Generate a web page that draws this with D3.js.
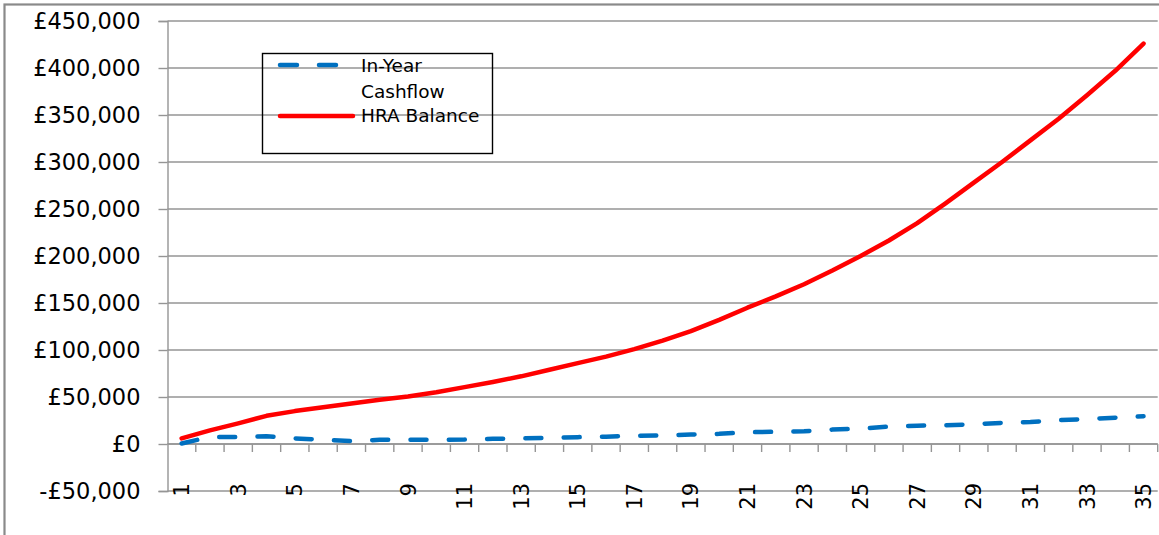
<!DOCTYPE html>
<html>
<head>
<meta charset="utf-8">
<script src="https://cdn.jsdelivr.net/npm/d3@7"></script>
<style>
  html, body { margin: 0; padding: 0; background: #fff; }
  svg { display: block; }
  text { font-family: "DejaVu Sans", sans-serif; fill: #000; }
</style>
</head>
<body>
<svg id="chart" width="1159" height="535"></svg>
<script>
// Year index along the category axis
const years = d3.range(1, 36).map(String);

// In-Year Cashflow (£)
const inYearCashflow = [
  500, 7500, 7500, 8300, 6000, 4500, 3000, 4500, 4500, 4600,
  4700, 5500, 6000, 6500, 7300, 7800, 8700, 9300, 10000, 10800,
  12500, 13000, 13500, 15300, 16300, 18500, 19500, 20000, 21000, 22500,
  23500, 25300, 26500, 28000, 29500
];

// HRA Balance (£)
const hraBalance = [
  6000, 14500, 22000, 30000, 35000, 39000, 43000, 47000, 50500, 55000,
  60500, 66000, 72000, 79000, 86000, 93000, 101000, 110000, 120000, 132000,
  145000, 157000, 170000, 184500, 200000, 216500, 235000, 256000, 278000, 300000,
  323000, 346000, 371000, 397000, 426000
];

// Value axis ticks and their labels
const yTicks = [-50000, 0, 50000, 100000, 150000, 200000, 250000, 300000, 350000, 400000, 450000];
const yTickLabels = ["-£50,000", "£0", "£50,000", "£100,000", "£150,000", "£200,000",
                     "£250,000", "£300,000", "£350,000", "£400,000", "£450,000"];

// Category labels shown (every other year)
const xTickLabels = years.filter((d, i) => i % 2 === 0);

const seriesNames = ["In-Year Cashflow", "HRA Balance"];

const svg = d3.select("#chart");

// chart frame
svg.append("rect")
  .attr("x", 4.5).attr("y", 4.5)
  .attr("width", 1170).attr("height", 550)
  .attr("fill", "none").attr("stroke", "#8a8a8a").attr("stroke-width", 2.2);

const plot = { left: 167.5, right: 1157.7, top: 21, bottom: 491 };

const x = d3.scaleBand().domain(years).range([plot.left, plot.right]).padding(0);
const y = d3.scaleLinear().domain([-50000, 450000]).range([plot.bottom, plot.top]);
const cx = d => x(d) + x.bandwidth() / 2;

// horizontal gridlines
svg.append("g")
  .selectAll("line")
  .data(yTicks)
  .join("line")
  .attr("x1", plot.left).attr("x2", plot.right)
  .attr("y1", d => y(d)).attr("y2", d => y(d))
  .attr("stroke", "#959595").attr("stroke-width", 1.4);

// value axis
const yAxis = d3.axisLeft(y)
  .tickValues(yTicks)
  .tickSize(9)
  .tickPadding(18)
  .tickFormat((d, i) => yTickLabels[i]);

const gy = svg.append("g")
  .attr("transform", `translate(${plot.left},0)`)
  .call(yAxis);
gy.select(".domain").attr("stroke", "#959595").attr("stroke-width", 1.4);
gy.selectAll(".tick line").attr("stroke", "#959595").attr("stroke-width", 1.4);
gy.selectAll(".tick text")
  .attr("font-size", 22.5)
  .attr("font-family", "DejaVu Sans, sans-serif")
  .attr("fill", "#111");

// category axis along zero
const y0 = y(0);
const gx = svg.append("g");
gx.append("line")
  .attr("x1", plot.left).attr("x2", plot.right)
  .attr("y1", y0).attr("y2", y0)
  .attr("stroke", "#959595").attr("stroke-width", 1.4);
gx.selectAll("line.tick")
  .data(years)
  .join("line")
  .attr("class", "tick")
  .attr("x1", d => x(d) + x.bandwidth()).attr("x2", d => x(d) + x.bandwidth())
  .attr("y1", y0).attr("y2", y0 + 8)
  .attr("stroke", "#959595").attr("stroke-width", 1.4);
gx.selectAll("text")
  .data(xTickLabels)
  .join("text")
  .attr("transform", d => `translate(${cx(d)},483) rotate(-90)`)
  .attr("text-anchor", "end")
  .attr("dy", "0.36em")
  .attr("font-size", 21)
  .attr("fill", "#111")
  .text(d => d);

// series lines
const line = d3.line().x((d, i) => cx(years[i])).y(d => y(d));

svg.append("path")
  .datum(inYearCashflow)
  .attr("d", line)
  .attr("fill", "none")
  .attr("stroke", "#0070C0")
  .attr("stroke-width", 4.5)
  .attr("stroke-linecap", "round")
  .attr("stroke-linejoin", "round")
  .attr("stroke-dasharray", "16,22.3");

svg.append("path")
  .datum(hraBalance)
  .attr("d", line)
  .attr("fill", "none")
  .attr("stroke", "#FF0000")
  .attr("stroke-width", 4.5)
  .attr("stroke-linecap", "round")
  .attr("stroke-linejoin", "round");

// legend
const lg = svg.append("g");
lg.append("rect")
  .attr("x", 262.5).attr("y", 53.5)
  .attr("width", 230).attr("height", 100)
  .attr("fill", "none").attr("stroke", "#000").attr("stroke-width", 1.4);

lg.append("line")
  .attr("x1", 280).attr("x2", 336).attr("y1", 65).attr("y2", 65)
  .attr("stroke", "#0070C0").attr("stroke-width", 4.5)
  .attr("stroke-linecap", "round").attr("stroke-dasharray", "17,22");
lg.append("line")
  .attr("x1", 280).attr("x2", 353).attr("y1", 116).attr("y2", 116)
  .attr("stroke", "#FF0000").attr("stroke-width", 4.5)
  .attr("stroke-linecap", "round");

const legendText = lg.append("text").attr("font-size", 18.5).attr("x", 361);
legendText.append("tspan").attr("x", 361).attr("y", 71.5).text("In-Year");
legendText.append("tspan").attr("x", 361).attr("y", 98).text("Cashflow");
lg.append("text").attr("font-size", 18.5).attr("x", 361).attr("y", 121.5).text(seriesNames[1]);
</script>
</body>
</html>
